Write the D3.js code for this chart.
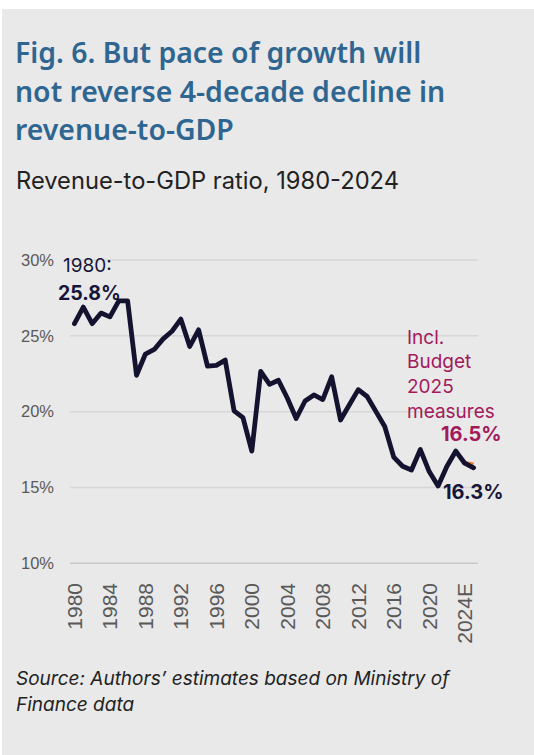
<!DOCTYPE html>
<html lang="en">
<head>
<meta charset="UTF-8">
<title>Revenue-to-GDP ratio</title>
<script src="https://d3js.org/d3.v7.min.js"></script>
<style>
  body { margin: 0; background: #fff; }
  .tick-y { font-family: "Liberation Sans", Arial, sans-serif; font-size: 16.5px; fill: #595959; }
  .tick-x { font-family: "Liberation Sans", Arial, sans-serif; font-size: 21px; fill: #595959; }
  .note { font-family: Inter, "Open Sans", sans-serif; font-size: 19px; }
</style>
</head>
<body>
<svg id="chart" width="534" height="755"></svg>
<script>
// categories and values
const years = ["1980","1981","1982","1983","1984","1985","1986","1987","1988","1989",
  "1990","1991","1992","1993","1994","1995","1996","1997","1998","1999",
  "2000","2001","2002","2003","2004","2005","2006","2007","2008","2009",
  "2010","2011","2012","2013","2014","2015","2016","2017","2018","2019",
  "2020","2021","2022","2023","2024","2025"];
const revenue = [25.8, 26.9, 25.8, 26.5, 26.25, 27.3, 27.3, 22.4, 23.8, 24.1,
  24.8, 25.3, 26.1, 24.3, 25.4, 23.0, 23.05, 23.4, 20.05, 19.6,
  17.4, 22.65, 21.8, 22.07, 20.9, 19.55, 20.7, 21.1, 20.8, 22.3,
  19.45, 20.45, 21.45, 21.0, 20.0, 19.0, 17.0, 16.4, 16.15, 17.5,
  16.05, 15.1, 16.4, 17.4, 16.6, 16.3];
const budgetYears = ["2024", "2025"];
const budgetValues = [16.6, 16.5];
const yTicks = [10, 15, 20, 25, 30];
const xTickYears = ["1980","1984","1988","1992","1996","2000","2004","2008","2012","2016","2020","2024"];
const xTickLabels = ["1980","1984","1988","1992","1996","2000","2004","2008","2012","2016","2020","2024E"];

const svg = d3.select("#chart");
svg.append("rect").attr("x", 2).attr("y", 9).attr("width", 532).attr("height", 746).attr("fill", "#e9e9e9");

// title
const title = svg.append("text")
  .attr("x", 16).attr("fill", "#2f6691")
  .style("font-family", "'Noto Sans', sans-serif").style("font-weight", 600).style("font-size", "28.4px");
["Fig. 6. But pace of growth will", "not reverse 4-decade decline in", "revenue-to-GDP"].forEach((t, i) => {
  title.append("tspan").attr("x", 15).attr("y", 63 + i * 38.5).text(t);
});

svg.append("text").attr("x", 16).attr("y", 189)
  .attr("fill", "#222")
  .style("font-family", "Inter, sans-serif").style("font-size", "23.7px")
  .text("Revenue-to-GDP ratio, 1980-2024");

const x = d3.scaleBand().domain(years).range([70, 478]);
const cx = d => x(d) + x.bandwidth() / 2;
const y = d3.scaleLinear().domain([10, 30]).range([563.3, 260]);

// gridlines
svg.append("g").selectAll("line").data(yTicks).join("line")
  .attr("x1", 70).attr("x2", 478)
  .attr("y1", d => y(d)).attr("y2", d => y(d))
  .attr("stroke", d => d === 10 ? "#c9c9c9" : "#d6d6d6")
  .attr("stroke-width", 1.5);

// y axis labels
const yAxis = svg.append("g")
  .attr("transform", "translate(54,0)")
  .call(d3.axisLeft(y).tickValues(yTicks).tickSize(0).tickPadding(0).tickFormat(d => d + "%"));
yAxis.select(".domain").remove();
yAxis.selectAll("text").attr("class", "tick-y").attr("font-size", null).attr("font-family", null).attr("fill", null);

// x axis labels (rotated)
const xAxis = svg.append("g")
  .attr("transform", "translate(0,583)")
  .call(d3.axisBottom(x).tickValues(xTickYears).tickSize(0).tickPadding(0)
    .tickFormat((d, i) => xTickLabels[i]));
xAxis.select(".domain").remove();
xAxis.selectAll("text")
  .attr("class", "tick-x").attr("font-size", null).attr("font-family", null).attr("fill", null)
  .attr("transform", "rotate(-90)")
  .attr("text-anchor", "end")
  .attr("x", 0).attr("y", 0).attr("dy", "0.36em");

// lines
const line = d3.line().x(d => cx(d[0])).y(d => y(d[1]));
svg.append("path")
  .datum(budgetYears.map((d, i) => [d, budgetValues[i]]))
  .attr("d", line).attr("fill", "none")
  .attr("stroke", "#e8832a").attr("stroke-width", 4.5).attr("stroke-linejoin", "round");
svg.append("path")
  .datum(years.map((d, i) => [d, revenue[i]]))
  .attr("d", line).attr("fill", "none")
  .attr("stroke", "#13122f").attr("stroke-width", 4.8)
  .attr("stroke-linejoin", "round").attr("stroke-linecap", "round");

// annotations
const navy = "#16163a", magenta = "#a21a5c";
svg.append("text").attr("class", "note").attr("x", 63).attr("y", 272).attr("fill", navy).text("1980:");
svg.append("text").attr("class", "note").attr("x", 58).attr("y", 300).attr("fill", navy)
  .style("font-weight", 700).style("font-size", "19.5px").text("25.8%");

const incl = svg.append("text").attr("class", "note").attr("fill", magenta);
["Incl.", "Budget", "2025", "measures"].forEach((t, i) => {
  incl.append("tspan").attr("x", 407).attr("y", 343.5 + i * 24.7).text(t);
});
svg.append("text").attr("class", "note").attr("x", 441).attr("y", 441).attr("fill", magenta)
  .style("font-weight", 700).style("font-size", "20px").text("16.5%");
svg.append("text").attr("class", "note").attr("x", 443).attr("y", 498.5).attr("fill", navy)
  .style("font-weight", 700).style("font-size", "20px").text("16.3%");

// source
const src = svg.append("text").attr("fill", "#222")
  .style("font-family", "Inter, sans-serif").style("font-style", "italic").style("font-size", "19px");
["Source: Authors\u2019 estimates based on Ministry of", "Finance data"].forEach((t, i) => {
  src.append("tspan").attr("x", 16).attr("y", 685 + i * 25.5).text(t);
});
</script>
</body>
</html>
